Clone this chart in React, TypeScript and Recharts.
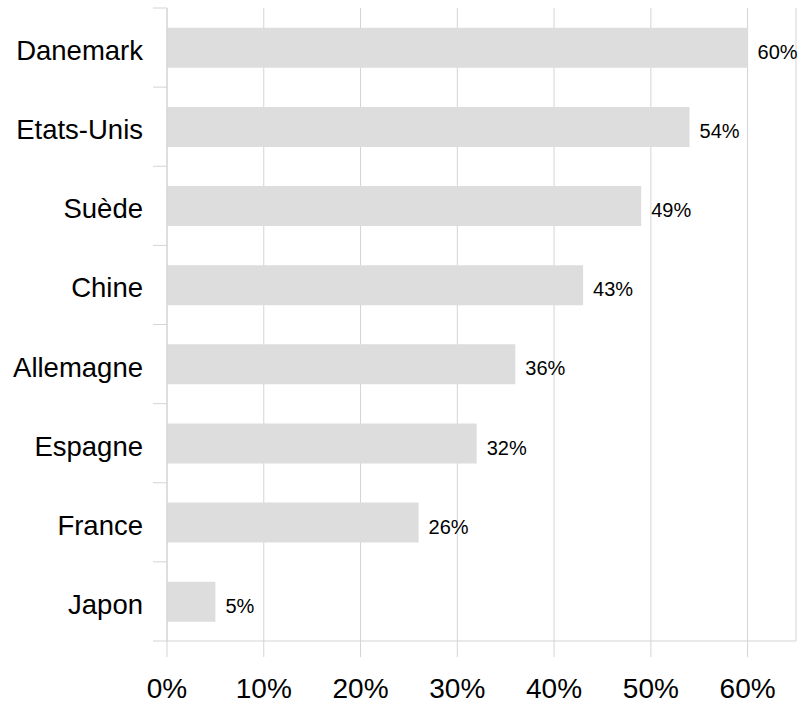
import { BarChart, Bar, XAxis, YAxis, CartesianGrid, LabelList } from 'recharts'

const countries = ['Danemark', 'Etats-Unis', 'Suède', 'Chine', 'Allemagne', 'Espagne', 'France', 'Japon']
const shares = [60, 54, 49, 43, 36, 32, 26, 5]
const xTicks = [0, 10, 20, 30, 40, 50, 60]

const data = countries.map((name, i) => ({ name, share: shares[i] }))

const GRID = '#d4d4d4'
const FONT = '"Liberation Sans", Arial, Helvetica, sans-serif'

// category label plus a short tick at each band boundary
function CountryTick(props: any) {
  const { x, y, payload, index, visibleTicksCount, height } = props
  const band = height / visibleTicksCount
  const top = y - band / 2
  const bottom = y + band / 2
  return (
    <g>
      <line x1={x + 10} x2={x + 24} y1={top} y2={top} stroke={GRID} />
      {index === visibleTicksCount - 1 && (
        <line x1={x + 10} x2={x + 24} y1={bottom} y2={bottom} stroke={GRID} />
      )}
      <text
        x={x}
        y={y}
        dy={3}
        textAnchor="end"
        dominantBaseline="central"
        fontSize={27.5}
        fill="#000"
        fontFamily={FONT}
      >
        {payload.value}
      </text>
    </g>
  )
}

export default function App() {
  return (
    <div style={{ position: 'absolute', left: 0, top: 0, background: '#fff' }}>
      <BarChart
        width={802}
        height={703}
        data={data}
        layout="vertical"
        margin={{ top: 8, right: 6, bottom: 0, left: 0 }}
        barCategoryGap="25%"
        style={{ fontFamily: FONT }}
      >
        <CartesianGrid horizontal={false} stroke={GRID} />
        <XAxis
          type="number"
          domain={[0, 65]}
          ticks={xTicks}
          tickFormatter={(v) => `${v}%`}
          height={62}
          axisLine={{ stroke: GRID }}
          tickLine={{ stroke: GRID }}
          tickSize={16}
          tickMargin={21}
          tick={{ fontSize: 28, fill: '#000' }}
        />
        <YAxis
          type="category"
          dataKey="name"
          width={167}
          axisLine={{ stroke: GRID }}
          tickLine={false}
          tickSize={14}
          tickMargin={10}
          interval={0}
          tick={<CountryTick />}
        />
        <Bar dataKey="share" fill="#dddddd" isAnimationActive={false}>
          <LabelList
            dataKey="share"
            position="right"
            offset={10}
            dy={4}
            formatter={(v: any) => `${v}%`}
            fontSize={20}
            fill="#000"
          />
        </Bar>
      </BarChart>
    </div>
  )
}
